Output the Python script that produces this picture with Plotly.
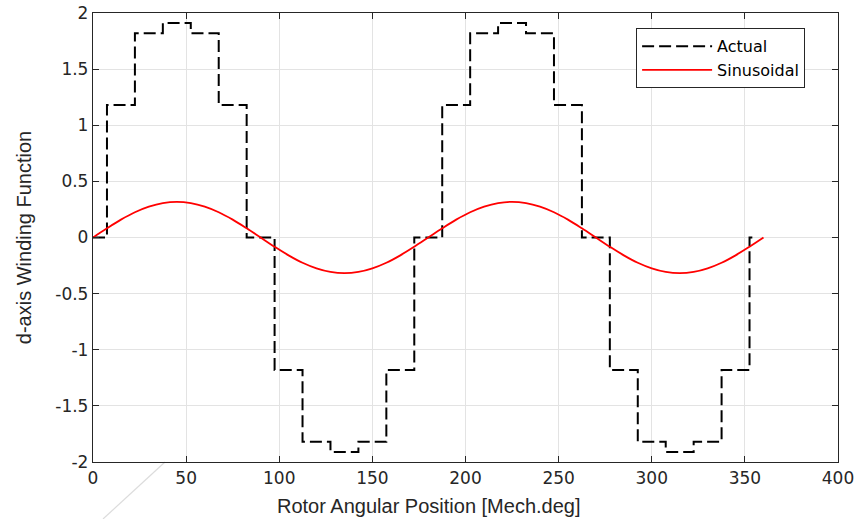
import plotly.graph_objects as go

# Actual winding function (stepwise), breakpoints in mech. degrees
actual_x = [0, 7.5, 22.5, 37.5, 52.5, 67.5, 82.5, 97.5, 112.5, 127.5, 142.5, 157.5,
            172.5, 187.5, 202.5, 217.5, 232.5, 247.5, 262.5, 277.5, 292.5, 307.5,
            322.5, 337.5, 352.5, 354]
actual_y = [0, 1.18, 1.82, 1.91, 1.82, 1.18, 0, -1.18, -1.82, -1.91, -1.82, -1.18,
            0, 1.18, 1.82, 1.91, 1.82, 1.18, 0, -1.18, -1.82, -1.91, -1.82, -1.18,
            0, 0]

# Sinusoidal approximation sampled every 7.5 degrees
sin_x = [0, 7.5, 15, 22.5, 30, 37.5, 45, 52.5, 60, 67.5, 75, 82.5, 90,
         97.5, 105, 112.5, 120, 127.5, 135, 142.5, 150, 157.5, 165, 172.5, 180,
         187.5, 195, 202.5, 210, 217.5, 225, 232.5, 240, 247.5, 255, 262.5, 270,
         277.5, 285, 292.5, 300, 307.5, 315, 322.5, 330, 337.5, 345, 352.5, 360]
sin_y = [0, 0.082, 0.159, 0.225, 0.275, 0.307, 0.318, 0.307, 0.275, 0.225, 0.159, 0.082, 0,
         -0.082, -0.159, -0.225, -0.275, -0.307, -0.318, -0.307, -0.275, -0.225, -0.159, -0.082, 0,
         0.082, 0.159, 0.225, 0.275, 0.307, 0.318, 0.307, 0.275, 0.225, 0.159, 0.082, 0,
         -0.082, -0.159, -0.225, -0.275, -0.307, -0.318, -0.307, -0.275, -0.225, -0.159, -0.082, 0]

x_ticks = [0, 50, 100, 150, 200, 250, 300, 350, 400]
y_ticks = [-2, -1.5, -1, -0.5, 0, 0.5, 1, 1.5, 2]
y_tick_text = ["-2", "-1.5", "-1", "-0.5", "0", "0.5", "1", "1.5", "2"]

x_title = "Rotor Angular Position [Mech.deg]"
y_title = "d-axis Winding Function"

FONT = "Liberation Sans, Arial, sans-serif"
TICKFONT = "DejaVu Sans, sans-serif"

fig = go.Figure()
fig.add_trace(go.Scatter(x=actual_x, y=actual_y, mode="lines", name="Actual",
                         line=dict(color="black", width=2, dash="12px,5px", shape="hv")))
fig.add_trace(go.Scatter(x=sin_x, y=sin_y, mode="lines", name="Sinusoidal",
                         line=dict(color="#ff0000", width=1.8, shape="spline")))

axis_common = dict(showline=True, linecolor="#262626", linewidth=1.3, mirror="ticks",
                   ticks="inside", ticklen=6, tickcolor="#262626", tickwidth=1.3,
                   showgrid=True, gridcolor="#e3e3e3", gridwidth=1, zeroline=False,
                   automargin=False,
                   tickfont=dict(family=TICKFONT, size=17, color="#262626"))

fig.update_layout(
    width=858, height=519,
    margin=dict(l=93, r=20, t=13, b=57),
    paper_bgcolor="white", plot_bgcolor="white",
    showlegend=True,
    legend=dict(x=0.729, y=0.966, xanchor="left", yanchor="top",
                bgcolor="white", bordercolor="#262626", borderwidth=1,
                font=dict(family=TICKFONT, size=16, color="black"),
                tracegroupgap=0, itemwidth=70),
    xaxis=dict(range=[0, 400], tickvals=x_ticks, **axis_common),
    yaxis=dict(range=[-2, 2], tickvals=y_ticks, ticktext=y_tick_text, **axis_common,
               title=dict(text=y_title, standoff=18,
                          font=dict(family=FONT, size=20, color="#262626"))),
    annotations=[dict(text=x_title, xref="paper", yref="paper",
                      x=(429 - 93) / 745, y=(462 - 493) / 449,
                      xanchor="center", yanchor="top", showarrow=False,
                      font=dict(family=FONT, size=20, color="#262626"))],
    shapes=[dict(type="line", xref="paper", yref="paper",
                 x0=(103 - 93) / 745, y0=(462 - 519) / 449,
                 x1=(165 - 93) / 745, y1=0,
                 line=dict(color="#dcdcdc", width=1.2), layer="below")],
)

fig.write_html("out.html")
